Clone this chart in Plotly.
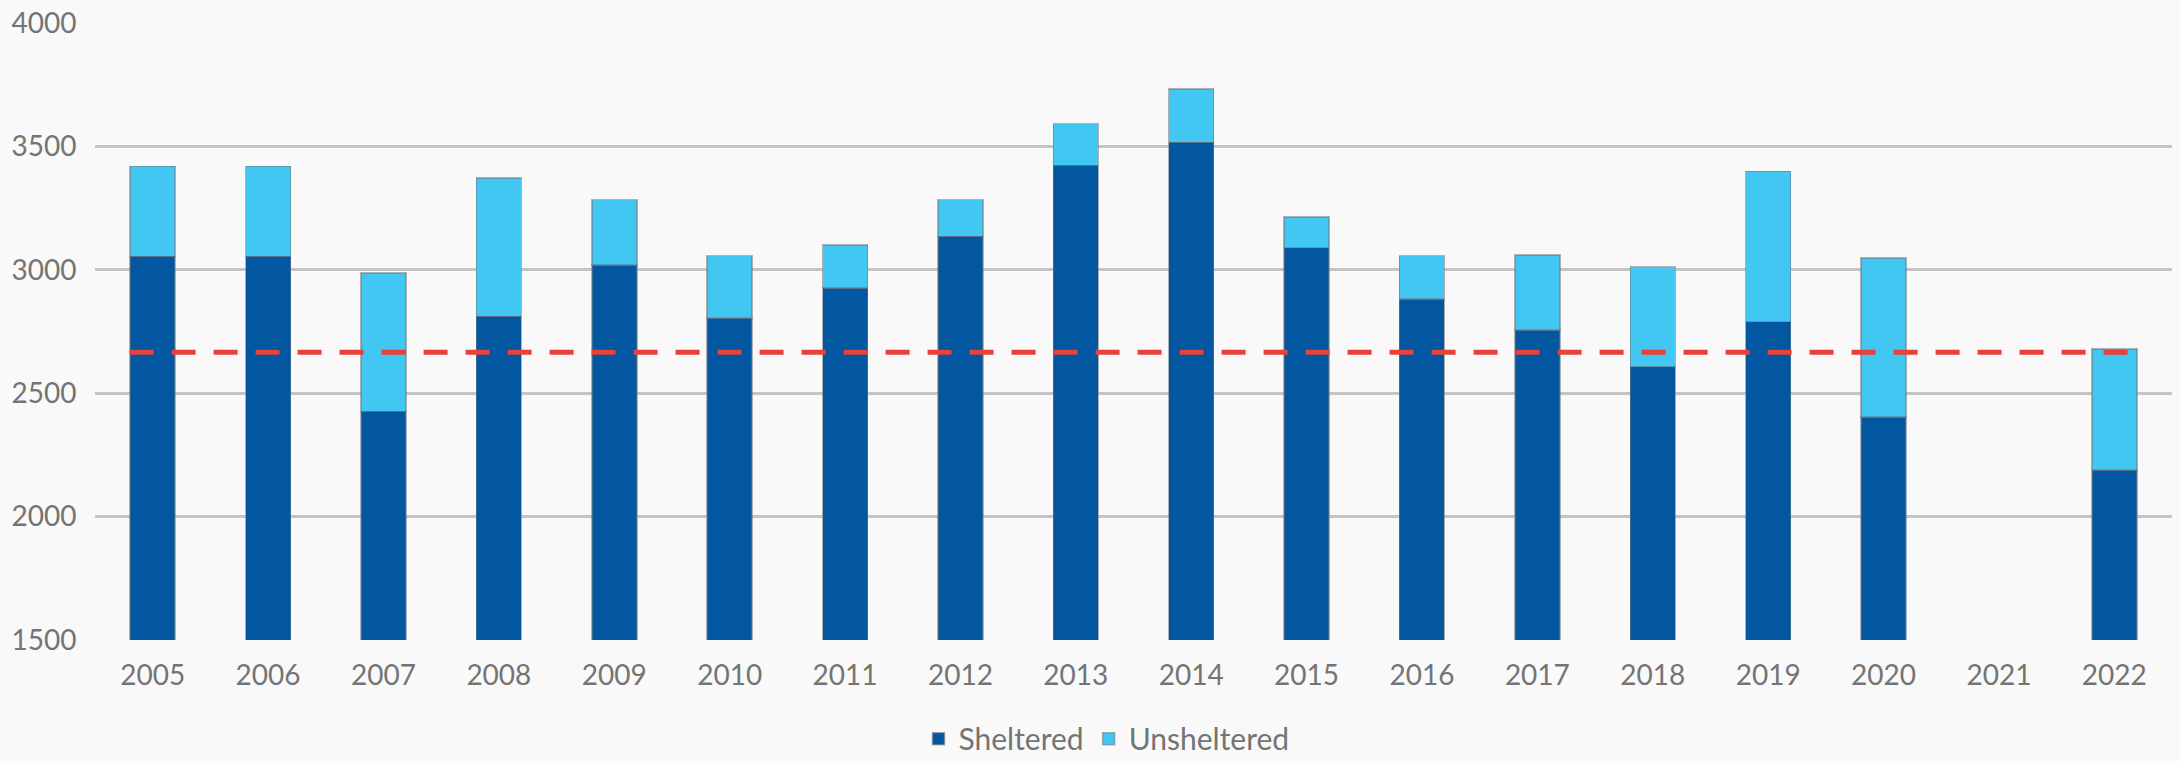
import plotly.graph_objects as go

years = ["2005", "2006", "2007", "2008", "2009", "2010", "2011", "2012", "2013",
         "2014", "2015", "2016", "2017", "2018", "2019", "2020", "2021", "2022"]
sheltered = [3054, 3054, 2426, 2811, 3020, 2804, 2926, 3135, 3423,
             3516, 3090, 2881, 2757, 2608, 2790, 2403, None, 2189]
totals = [3419, 3419, 2987, 3372, 3284, 3057, 3101, 3284, 3592,
          3732, 3214, 3057, 3061, 3013, 3399, 3047, None, 2679]
unsheltered = [None if (t is None or s is None) else t - s for t, s in zip(totals, sheltered)]
target_line = 2666
y_ticks = [1500, 2000, 2500, 3000, 3500, 4000]

DARK = "#0257A0"
LIGHT = "#42C6F2"
FONT = "Lato"
GREY = "#747474"

fig = go.Figure()
fig.add_trace(go.Bar(
    x=years, y=sheltered, name="Sheltered",
    marker=dict(color=DARK, line=dict(color="rgba(110,120,130,0.55)", width=1.5)),
))
fig.add_trace(go.Bar(
    x=years, y=unsheltered, name="Unsheltered",
    marker=dict(color=LIGHT, line=dict(color="rgba(110,120,130,0.55)", width=1.5)),
))

fig.add_shape(
    type="line", xref="x", yref="y",
    x0=-0.2, x1=len(years) - 1 + 0.2, y0=target_line, y1=target_line,
    line=dict(color="#E8403A", width=5, dash="24px,18px"),
    layer="above",
)

fig.update_layout(
    width=2180, height=761,
    margin=dict(l=95, r=8, t=23, b=121, autoexpand=False),
    barmode="stack",
    bargap=0.61,
    paper_bgcolor="#F9F9F9",
    plot_bgcolor="#F9F9F9",
    font=dict(family=FONT, size=28, color=GREY),
    showlegend=True,
    legend=dict(
        orientation="h", x=0.487, xanchor="center", y=-0.16, yanchor="middle",
        font=dict(family=FONT, size=30, color=GREY),
        traceorder="normal",
        bgcolor="rgba(0,0,0,0)",
    ),
    xaxis=dict(
        type="category", categoryorder="array", categoryarray=years,
        showgrid=False, zeroline=False, showline=False,
        ticks="outside", ticklen=10, tickcolor="rgba(0,0,0,0)",
        tickfont=dict(family=FONT, size=28, color=GREY),
        range=[-0.5, len(years) - 0.5],
    ),
    yaxis=dict(
        range=[1500, 4000], tickvals=y_ticks,
        showgrid=True, gridcolor="#C4C4C4", gridwidth=3,
        zeroline=False, showline=False,
        ticks="outside", ticklen=12, tickcolor="rgba(0,0,0,0)",
        tickfont=dict(family=FONT, size=28, color=GREY),
    ),
)

fig.write_html(
    "out.html",
    config={"displayModeBar": False},
    post_script="document.body.style.margin='0';document.body.style.background='#F9F9F9';",
)
